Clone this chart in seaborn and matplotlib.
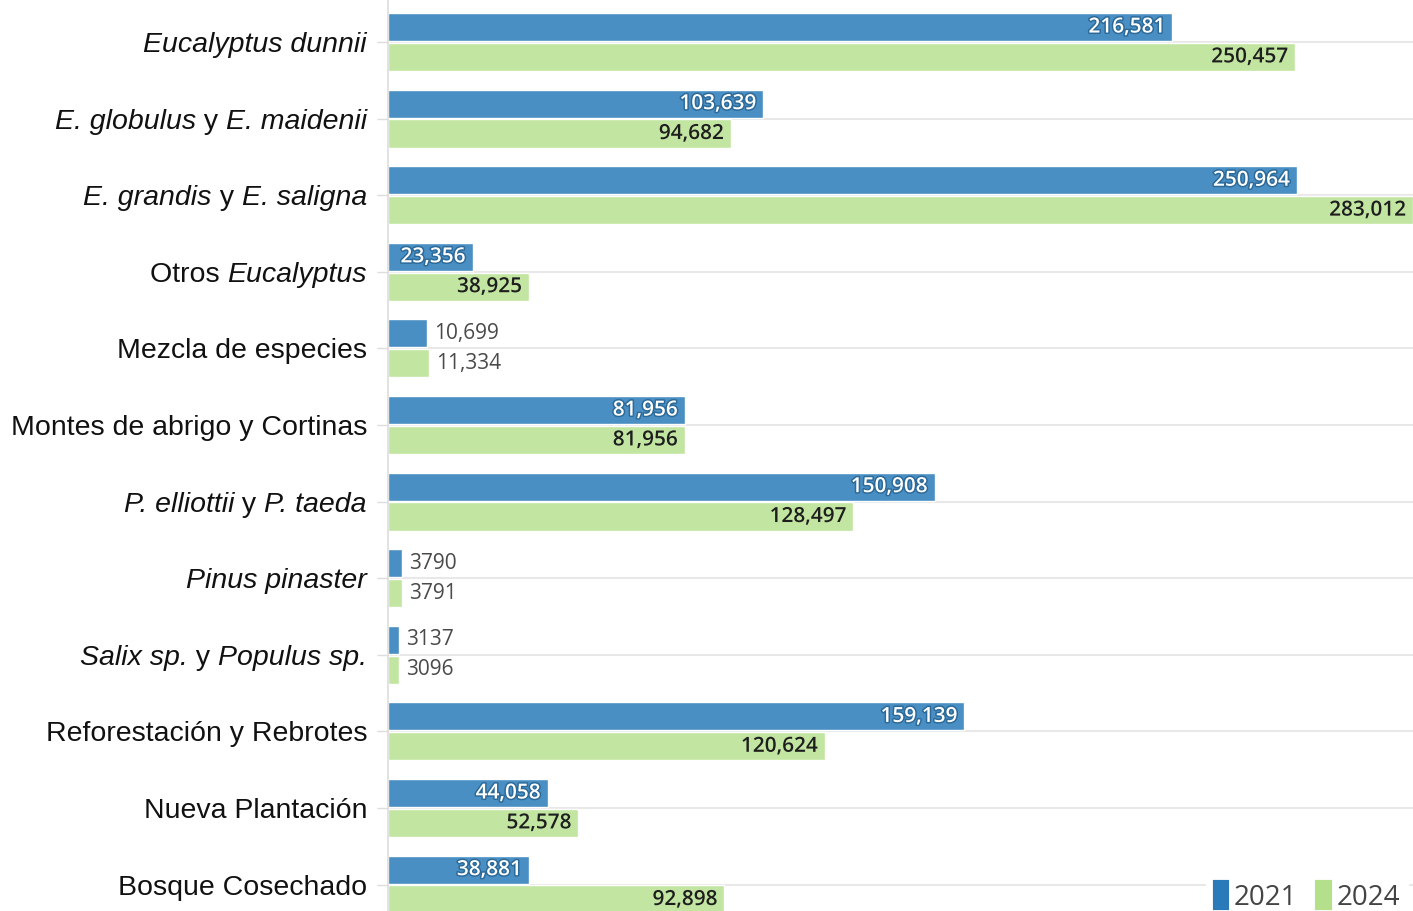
import matplotlib
matplotlib.use("Agg")
import matplotlib.pyplot as plt
import matplotlib.patheffects as pe
from matplotlib.patches import Patch
import pandas as pd
import seaborn as sns


CATEGORIES = [
    "Eucalyptus dunnii",
    "E. globulus y E. maidenii",
    "E. grandis y E. saligna",
    "Otros Eucalyptus",
    "Mezcla de especies",
    "Montes de abrigo y Cortinas",
    "P. elliottii y P. taeda",
    "Pinus pinaster",
    "Salix sp. y Populus sp.",
    "Reforestación y Rebrotes",
    "Nueva Plantación",
    "Bosque Cosechado",
]

# label pieces: (text, italic)
LABEL_PARTS = [
    [("Eucalyptus dunnii", True)],
    [("E. globulus", True), (" y ", False), ("E. maidenii", True)],
    [("E. grandis", True), (" y ", False), ("E. saligna", True)],
    [("Otros ", False), ("Eucalyptus", True)],
    [("Mezcla de especies", False)],
    [("Montes de abrigo y Cortinas", False)],
    [("P. elliottii", True), (" y ", False), ("P. taeda", True)],
    [("Pinus pinaster", True)],
    [("Salix sp.", True), (" y ", False), ("Populus sp.", True)],
    [("Reforestación y Rebrotes", False)],
    [("Nueva Plantación", False)],
    [("Bosque Cosechado", False)],
]

YEARS = ["2021", "2024"]
VALUES_2021 = [216581, 103639, 250964, 23356, 10699, 81956, 150908, 3790, 3137, 159139, 44058, 38881]
VALUES_2024 = [250457, 94682, 283012, 38925, 11334, 81956, 128497, 3791, 3096, 120624, 52578, 92898]

BAR_COLORS = ["#4a8fc3", "#c2e5a1"]
LEGEND_COLORS = ["#2a7aba", "#b4df8b"]


def fmt(v: int) -> str:
    return f"{v:,}" if v >= 10000 else str(v)


df = pd.DataFrame(
    {
        "category": CATEGORIES * 2,
        "value": VALUES_2021 + VALUES_2024,
        "year": [YEARS[0]] * len(CATEGORIES) + [YEARS[1]] * len(CATEGORIES),
    }
)

sns.set_theme(style="white")
plt.rcParams["font.family"] = ["Liberation Sans", "DejaVu Sans"]

fig = plt.figure(figsize=(14.13, 9.11), dpi=100)
left = 388 / 1413
ax = fig.add_axes([left, 0, 1 - left, 1])

sns.barplot(
    data=df, y="category", x="value", hue="year", orient="h",
    palette=BAR_COLORS, saturation=1, width=0.78, gap=0.06, ax=ax, legend=False,
    order=CATEGORIES, hue_order=YEARS, zorder=2,
)

ax.set_xlim(0, max(VALUES_2024))
ax.set_ylim(11.345, -0.548)
ax.set_xlabel("")
ax.set_ylabel("")
ax.set_xticks([])
ax.set_yticks(range(len(CATEGORIES)))
ax.set_yticklabels([])
ax.tick_params(axis="y", length=8, width=1, color="#dddddd", left=True)
for y in range(len(CATEGORIES)):
    ax.axhline(y, color="#e8e8e8", lw=1.5, zorder=1)
for side in ["top", "right", "bottom"]:
    ax.spines[side].set_visible(False)
ax.spines["left"].set_color("#dddddd")
ax.spines["left"].set_linewidth(1.2)

# category labels drawn piece by piece, right to left, to mix italic and roman
renderer = fig.canvas.get_renderer()
for y, parts in enumerate(LABEL_PARTS):
    offset = -21
    for text, italic in reversed(parts):
        t = ax.annotate(text, (0, y), xycoords=("axes fraction", "data"),
                        xytext=(offset, 0), textcoords="offset pixels",
                        ha="right", va="center_baseline", fontsize=20.5,
                        style="italic" if italic else "normal", color="#111111")
        offset -= t.get_window_extent(renderer).width

num_font = ["Open Sans", "DejaVu Sans"]
for i, (container, vals) in enumerate(zip(ax.containers, [VALUES_2021, VALUES_2024])):
    for bar, v in zip(container, vals):
        yc = bar.get_y() + bar.get_height() / 2
        x_end = bar.get_width()
        if v > 20000:
            if i == 0:
                color, effects = "white", [pe.withStroke(linewidth=2.2, foreground="#2c6a99")]
            else:
                color, effects = "#1e1e1e", [pe.withStroke(linewidth=2, foreground="#c2e5a1")]
            ax.annotate(fmt(v), (x_end, yc), xytext=(-5, 0), textcoords="offset points",
                        ha="right", va="center", fontsize=15, fontweight="semibold",
                        color=color, family=num_font, path_effects=effects, zorder=4)
        else:
            ax.annotate(fmt(v), (x_end, yc), xytext=(5, 0), textcoords="offset points",
                        ha="left", va="center", fontsize=15, color="#4a4a4a",
                        family=num_font, zorder=4)

handles = [
    Patch(facecolor=c, edgecolor=c, linewidth=3, joinstyle="round", label=y)
    for c, y in zip(LEGEND_COLORS, YEARS)
]
leg = ax.legend(
    handles=handles, loc="lower right", bbox_to_anchor=(1.009, -0.025), ncol=2,
    frameon=True, framealpha=1, facecolor="white", edgecolor="white",
    prop={"family": num_font, "size": 20}, handlelength=0.45, handleheight=1.05,
    handletextpad=0.25, columnspacing=0.7, borderpad=0.3,
)
for t in leg.get_texts():
    t.set_color("#444444")
leg.set_zorder(5)

fig.savefig("out.png", dpi=100)
